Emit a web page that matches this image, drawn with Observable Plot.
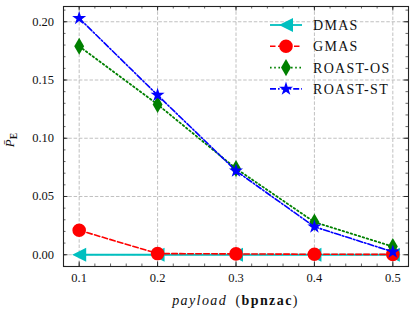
<!DOCTYPE html>
<html>
<head>
<meta charset="utf-8">
<script src="https://cdn.jsdelivr.net/npm/d3@7"></script>
<script src="https://cdn.jsdelivr.net/npm/@observablehq/plot@0.6"></script>
<style>
  html, body { margin: 0; padding: 0; background: #fff; }
  #chart { width: 415px; height: 315px; }
</style>
</head>
<body>
<div id="chart"></div>
<script>
// ---- data ----
const payload = [0.1, 0.2, 0.3, 0.4, 0.5];
const dmas    = [0.000, 0.000, 0.000, 0.000, 0.000];
const gmas    = [0.021, 0.001, 0.0007, 0.0004, 0.0003];
const roastOS = [0.179, 0.129, 0.074, 0.028, 0.007];
const roastST = [0.203, 0.137, 0.072, 0.024, 0.0025];
const seriesNames = ["DMAS", "GMAS", "ROAST-OS", "ROAST-ST"];
const xTicks = [0.1, 0.2, 0.3, 0.4, 0.5];
const yTicks = [0.00, 0.05, 0.10, 0.15, 0.20];
const xMinor = d3.range(0.08, 0.5201, 0.02).map(v => +v.toFixed(2));
const yMinor = d3.range(-0.01, 0.2131, 0.01).map(v => +v.toFixed(2));

// ---- styles ----
const triLeft = {
  draw(ctx, size) {
    const r = Math.sqrt(size / Math.PI);
    ctx.moveTo(-r, 0);
    ctx.lineTo(r, -r);
    ctx.lineTo(r, r);
    ctx.closePath();
  }
};
const styles = {
  "DMAS":     {color: "#00BFBF", dash: null,          symbol: triLeft,          r: 7,   width: 1.8},
  "GMAS":     {color: "#FF0000", dash: "5.5,2.5",     symbol: d3.symbolCircle,  r: 6.8, width: 1.6},
  "ROAST-OS": {color: "#008000", dash: "1.6,2.6",     symbol: d3.symbolDiamond, r: 5.2, width: 1.8},
  "ROAST-ST": {color: "#0000FF", dash: "6,2,1.6,2",   symbol: d3.symbolStar,    r: 4.4, width: 1.6}
};
const values = {"DMAS": dmas, "GMAS": gmas, "ROAST-OS": roastOS, "ROAST-ST": roastST};
const rows = seriesNames.map(name => payload.map((x, i) => ({name, x, y: values[name][i]})));

const font = "'Liberation Serif', 'DejaVu Serif', serif";
const W = 415, H = 315;
const mL = 63, mR = 7, mT = 6, mB = 49;
const innerH = H - mT - mB, innerW = W - mL - mR;

const marks = [];
// grid
marks.push(Plot.gridX(xTicks, {stroke: "#b0b0b0", strokeOpacity: 1, strokeWidth: 0.8, strokeDasharray: "3.5,1.8"}));
marks.push(Plot.gridY(yTicks, {stroke: "#b0b0b0", strokeOpacity: 1, strokeWidth: 0.8, strokeDasharray: "3.5,1.8"}));
// series
for (const rs of rows) {
  const s = styles[rs[0].name];
  marks.push(Plot.line(rs, {x: "x", y: "y", stroke: s.color, strokeWidth: s.width, strokeDasharray: s.dash}));
  marks.push(Plot.dot(rs, {x: "x", y: "y", symbol: () => s.symbol, r: s.r, fill: s.color, stroke: "none"}));
}
// inward ticks (major / minor) on all sides
const tk = 4.5, tm = 2.5;
marks.push(Plot.ruleX(xTicks, {x: d => d, insetTop: innerH - tk, stroke: "#222", strokeWidth: 0.9}));
marks.push(Plot.ruleX(xTicks, {x: d => d, insetBottom: innerH - tk, stroke: "#222", strokeWidth: 0.9}));
marks.push(Plot.ruleX(xMinor, {x: d => d, insetTop: innerH - tm, stroke: "#222", strokeWidth: 0.7}));
marks.push(Plot.ruleX(xMinor, {x: d => d, insetBottom: innerH - tm, stroke: "#222", strokeWidth: 0.7}));
marks.push(Plot.ruleY(yTicks, {y: d => d, insetRight: innerW - tk, stroke: "#222", strokeWidth: 0.9}));
marks.push(Plot.ruleY(yTicks, {y: d => d, insetLeft: innerW - tk, stroke: "#222", strokeWidth: 0.9}));
marks.push(Plot.ruleY(yMinor, {y: d => d, insetRight: innerW - tm, stroke: "#222", strokeWidth: 0.7}));
marks.push(Plot.ruleY(yMinor, {y: d => d, insetLeft: innerW - tm, stroke: "#222", strokeWidth: 0.7}));
// axes labels
marks.push(Plot.axisX(xTicks, {tickSize: 0, tickPadding: 7, tickFormat: d3.format(".1f"), label: null, fontSize: 12.5, fill: "#111"}));
marks.push(Plot.axisY(yTicks, {tickSize: 0, tickPadding: 9.5, tickFormat: d3.format(".2f"), label: null, fontSize: 12.5, fill: "#111"}));
marks.push(Plot.frame({stroke: "#222", strokeWidth: 1.1}));

const chart = Plot.plot({
  width: W, height: H,
  marginLeft: mL, marginRight: mR, marginTop: mT, marginBottom: mB,
  style: {fontFamily: font, background: "#fff", color: "#111"},
  x: {domain: [0.08, 0.52]},
  y: {domain: [-0.0101, 0.2131]},
  marks
});
document.getElementById("chart").appendChild(chart);

// ---- axis titles and legend (non-data annotations) ----
const svg = d3.select(chart);
const xl = svg.append("text")
  .attr("x", mL + innerW / 2).attr("y", 305)
  .attr("text-anchor", "middle")
  .style("font-family", font).style("font-size", "14px").style("letter-spacing", "1.4px").attr("fill", "#111");
xl.append("tspan").attr("font-style", "italic").text("payload");
xl.append("tspan").text("\u2002(");
xl.append("tspan").attr("font-weight", "bold").text("bpnzac");
xl.append("tspan").text(")");

const yl = svg.append("text")
  .attr("transform", `translate(14,${mT + innerH / 2 + 4}) rotate(-90)`)
  .attr("text-anchor", "middle")
  .style("font-family", font).style("font-size", "13px").attr("fill", "#111");
yl.append("tspan").attr("font-style", "italic").text("P\u0304");
yl.append("tspan").attr("dy", 3).attr("font-size", "9.5px").attr("font-weight", "bold").text("E");

const leg = svg.append("g");
seriesNames.forEach((name, i) => {
  const s = styles[name];
  const y = 25 + i * 21.3;
  const g = leg.append("g");
  g.append("line").attr("x1", 270).attr("x2", 302).attr("y1", y).attr("y2", y)
    .attr("stroke", s.color).attr("stroke-width", s.width)
    .attr("stroke-dasharray", s.dash);
  g.append("path").attr("transform", `translate(286,${y})`)
    .attr("d", d3.symbol(s.symbol, Math.PI * s.r * s.r)())
    .attr("fill", s.color);
  g.append("text").attr("x", 313).attr("y", y).attr("dy", "0.35em")
    .attr("text-anchor", "start")
    .style("font-family", font).style("font-size", "14px").style("letter-spacing", "1.3px").attr("fill", "#111")
    .text(name);
});
</script>
</body>
</html>
